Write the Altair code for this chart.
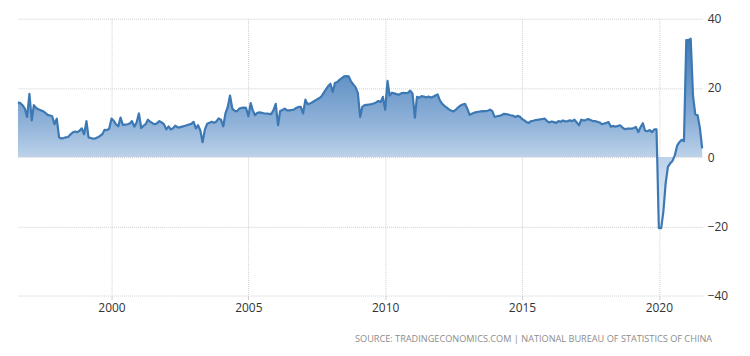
import altair as alt
import pandas as pd

start_month = "1996-08-01"

# China retail sales YoY (%), monthly from Aug 1996 to Aug 2021
values = [
    15.8, 15.6, 15.0, 14.0, 11.6, 18.3, 10.6, 15.0, 14.2, 13.8,
    13.5, 13.3, 12.8, 12.2, 12.0, 11.8, 9.5, 11.1, 5.7, 5.4,
    5.5, 5.7, 5.8, 6.5, 7.1, 7.4, 7.2, 7.6, 8.3, 6.6,
    10.4, 5.7, 5.5, 5.3, 5.4, 5.7, 6.1, 6.6, 7.9, 7.8,
    8.2, 11.1, 10.5, 9.5, 8.9, 11.4, 9.3, 9.4, 9.5, 9.7,
    10.4, 8.8, 10.0, 12.6, 8.4, 9.0, 9.5, 10.8, 10.2, 9.8,
    9.5, 9.8, 10.4, 10.0, 9.5, 8.0, 8.9, 8.0, 8.3, 9.1,
    8.6, 8.6, 8.8, 9.0, 9.2, 9.4, 9.6, 10.2, 8.3, 9.2,
    7.7, 4.3, 8.0, 9.6, 9.9, 10.2, 9.9, 10.3, 11.2, 10.8,
    8.9, 12.6, 14.5, 17.8, 14.0, 13.4, 13.2, 14.0, 14.2, 14.3,
    14.2, 11.8, 15.6, 13.5, 12.1, 12.8, 12.9, 12.8, 12.6, 12.6,
    12.5, 12.4, 13.5, 15.4, 9.2, 13.3, 13.6, 14.0, 13.5, 13.5,
    13.6, 13.7, 14.2, 14.5, 14.5, 12.6, 16.6, 15.3, 15.5, 15.8,
    16.2, 16.6, 17.0, 17.5, 18.5, 19.5, 20.5, 21.2, 18.8, 21.4,
    21.7, 22.3, 22.8, 23.3, 23.4, 23.3, 21.9, 21.0, 20.2, 18.5,
    11.6, 14.5, 15.0, 15.1, 15.2, 15.3, 15.5, 15.8, 16.2, 15.9,
    17.4, 13.7, 22.0, 17.8, 18.6, 18.4, 18.2, 18.0, 18.4, 18.6,
    18.5, 18.6, 19.2, 18.3, 11.4, 17.4, 17.2, 17.6, 17.5, 17.2,
    17.5, 17.2, 17.4, 17.8, 18.1, 16.4, 15.4, 14.8, 14.3, 13.8,
    13.4, 13.2, 13.7, 14.4, 14.9, 15.2, 15.4, 14.0, 12.2, 12.5,
    12.8, 13.0, 13.1, 13.2, 13.3, 13.3, 13.4, 13.7, 13.3, 11.6,
    11.8, 11.9, 12.1, 12.5, 12.4, 12.3, 12.1, 12.0, 11.6, 11.9,
    11.7, 11.0, 10.6, 10.1, 9.9, 10.4, 10.5, 10.7, 10.8, 10.9,
    11.0, 11.1, 10.4, 10.0, 10.3, 10.1, 9.9, 10.4, 10.2, 10.6,
    10.3, 10.4, 10.6, 10.4, 10.8, 10.0, 9.2, 10.8, 10.6, 10.7,
    11.0, 10.7, 10.4, 10.4, 10.2, 10.0, 9.5, 9.7, 9.9, 10.1,
    8.8, 9.0, 8.8, 9.0, 9.2, 8.6, 8.1, 8.2, 8.2, 8.2,
    8.4, 8.7, 7.2, 8.6, 9.8, 7.6, 7.5, 7.8, 7.2, 8.0,
    8.0, -20.5, -20.5, -15.8, -7.5, -2.8, -1.8, -1.1, 0.5, 3.3,
    4.3, 5.0, 4.6, 33.8, 33.8, 34.2, 17.7, 12.4, 12.1, 8.5,
    2.5,
]

x_tick_years = [2000, 2005, 2010, 2015, 2020]
y_ticks = [-40, -20, 0, 20, 40]
source_text = "SOURCE: TRADINGECONOMICS.COM  |  NATIONAL BUREAU OF STATISTICS OF CHINA"

dates = pd.date_range(start_month, periods=len(values), freq="MS")
df = pd.DataFrame({"date": dates, "value": values})

first = dates[0]
last = dates[-1]

x_enc = alt.X(
    "date:T",
    scale=alt.Scale(
        domain=[
            alt.DateTime(year=first.year, month=first.month, date=1),
            alt.DateTime(year=last.year, month=last.month, date=1),
        ]
    ),
    axis=alt.Axis(
        values=[alt.DateTime(year=y, month=1, date=1) for y in x_tick_years],
        format="%Y",
        title=None,
        grid=True,
        gridColor="#cfcfcf",
        gridDash=[1, 1],
        domain=False,
        ticks=True,
        tickSize=4,
        tickColor="#cfcfcf",
        labelPadding=3,
        labelFontSize=12,
        labelColor="#333333",
        labelFont="Open Sans",
    ),
)

y_scale = alt.Scale(domain=[-40, 40], nice=False)
y_enc = alt.Y(
    "value:Q",
    scale=y_scale,
    axis=alt.Axis(
        orient="right",
        values=y_ticks,
        title=None,
        grid=True,
        gridColor="#cfcfcf",
        gridDash=[1, 1],
        domain=False,
        ticks=False,
        labelPadding=5,
        labelFontSize=12,
        labelColor="#333333",
        labelFont="Open Sans",
    ),
)

gradient = alt.Gradient(
    gradient="linear",
    x1=0, x2=0, y1=0, y2=1,
    stops=[
        alt.GradientStop(color="#4079b6", offset=0),
        alt.GradientStop(color="#6d9aca", offset=0.26),
        alt.GradientStop(color="#91b3d9", offset=0.45),
        alt.GradientStop(color="#bcd2e9", offset=0.625),
        alt.GradientStop(color="#eef3f9", offset=1),
    ],
)

area = alt.Chart(df).mark_area(color=gradient, interpolate="linear").encode(
    x=x_enc,
    y=y_enc,
    y2=alt.datum(0),
)

line = alt.Chart(df).mark_line(
    color="#3b78b4", strokeWidth=2.2, interpolate="linear", strokeJoin="round"
).encode(
    x="date:T",
    y="value:Q",
)

chart = (
    alt.layer(area, line)
    .properties(
        width=687,
        height=278,
        autosize=alt.AutoSizeParams(type="none"),
        padding={"left": 10, "top": 10, "right": 40, "bottom": 56},
        title=alt.TitleParams(
            source_text,
            orient="bottom",
            anchor="end",
            frame="group",
            fontSize=9.2,
            fontWeight="normal",
            color="#8c8c8c",
            font="Open Sans",
            offset=22,
            dx=10,
        ),
    )
    .configure_view(stroke=None)
)

chart.save("out.html", embed_options={"renderer": "svg", "actions": False})
